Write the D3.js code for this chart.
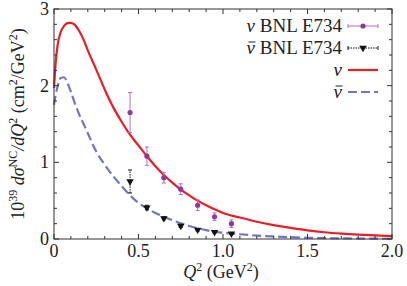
<!DOCTYPE html>
<html>
<head>
<meta charset="utf-8">
<script src="https://cdn.jsdelivr.net/npm/d3@7"></script>
<style>
  body { margin: 0; background: #fff; }
</style>
</head>
<body>
<div id="chart"></div>
<script>
// Curve grid (Q^2) and model curves
const qGrid = [0, 0.01, 0.02, 0.04, 0.06, 0.08, 0.10, 0.125, 0.15, 0.175, 0.2, 0.25, 0.3, 0.35, 0.4, 0.45, 0.5,
  0.55, 0.6, 0.65, 0.7, 0.75, 0.8, 0.85, 0.9, 0.95, 1.0, 1.1, 1.2, 1.3, 1.4, 1.5, 1.6, 1.7, 1.8, 1.9, 2.0];
const nuCurve = [1.97, 2.30, 2.51, 2.70, 2.78, 2.815, 2.82, 2.79, 2.71, 2.60, 2.46, 2.21, 1.95, 1.72, 1.53, 1.36, 1.22,
  1.08, 0.95, 0.835, 0.735, 0.645, 0.57, 0.50, 0.44, 0.387, 0.34, 0.28, 0.225, 0.18, 0.145, 0.113, 0.088, 0.07, 0.056, 0.046, 0.038];
const nubarCurve = [1.75, 1.88, 1.98, 2.10, 2.11, 2.03, 1.92, 1.76, 1.62, 1.50, 1.38, 1.14, 0.97, 0.82, 0.69, 0.57, 0.47,
  0.40, 0.34, 0.29, 0.245, 0.205, 0.17, 0.14, 0.115, 0.095, 0.082, 0.062, 0.045, 0.033, 0.024, 0.016, 0.011, 0.008, 0.006, 0.004, 0.003];

// BNL E734 data
const dataQ2 = [0.45, 0.55, 0.65, 0.75, 0.85, 0.95, 1.05];
const nuData = [1.65, 1.08, 0.80, 0.65, 0.44, 0.29, 0.20];
const nuErr = [0.26, 0.12, 0.07, 0.07, 0.07, 0.05, 0.05];
const nubarData = [0.75, 0.41, 0.27, 0.17, 0.12, 0.09, 0.07];
const nubarErr = [0.15, 0.03, 0.02, 0.02, 0.015, 0.01, 0.01];

const xTicks = [0, 0.5, 1.0, 1.5, 2.0];
const xTickLabels = ['0', '0.5', '1.0', '1.5', '2.0'];
const yTicks = [0, 1, 2, 3];

const W = 407, H = 286;
const margin = { left: 54, right: 15, top: 9, bottom: 47 };
const red = '#ec1c24', blue = '#7275c6', purple = '#8b3a98', purpleLight = '#b070bd';
const FONT = 'Liberation Serif';

const svg = d3.select('#chart').append('svg')
  .attr('width', W).attr('height', H);

const x = d3.scaleLinear().domain([0, 2]).range([margin.left, W - margin.right]);
const y = d3.scaleLinear().domain([0, 3]).range([H - margin.bottom, margin.top]);

// Curves
const line = d3.line().curve(d3.curveMonotoneX)
  .x(d => x(d[0])).y(d => y(d[1]));

svg.append('path')
  .datum(qGrid.map((q, i) => [q, nubarCurve[i]]))
  .attr('d', line)
  .attr('fill', 'none').attr('stroke', blue).attr('stroke-width', 2.2)
  .attr('stroke-dasharray', '9,4');

svg.append('path')
  .datum(qGrid.map((q, i) => [q, nuCurve[i]]))
  .attr('d', line)
  .attr('fill', 'none').attr('stroke', red).attr('stroke-width', 2.2);

// Frame and ticks
const frame = svg.append('g').attr('stroke', '#333').attr('stroke-width', 1);
frame.append('rect')
  .attr('x', x(0)).attr('y', y(3))
  .attr('width', x(2) - x(0)).attr('height', y(0) - y(3))
  .attr('fill', 'none');

const xMinor = d3.range(0, 2.0001, 0.1);
xMinor.forEach(v => {
  const major = xTicks.some(t => Math.abs(t - v) < 1e-6);
  const len = major ? 5 : 3;
  frame.append('line').attr('x1', x(v)).attr('x2', x(v)).attr('y1', y(0)).attr('y2', y(0) - len);
  frame.append('line').attr('x1', x(v)).attr('x2', x(v)).attr('y1', y(3)).attr('y2', y(3) + len);
});
const yMinor = d3.range(0, 3.0001, 0.2);
yMinor.forEach(v => {
  const major = yTicks.some(t => Math.abs(t - v) < 1e-6);
  const len = major ? 5 : 3;
  frame.append('line').attr('y1', y(v)).attr('y2', y(v)).attr('x1', x(0)).attr('x2', x(0) + len);
  frame.append('line').attr('y1', y(v)).attr('y2', y(v)).attr('x1', x(2)).attr('x2', x(2) - len);
});

// Tick labels
svg.append('g').selectAll('text').data(xTicks).join('text')
  .attr('x', d => x(d)).attr('y', y(0) + 18)
  .attr('text-anchor', 'middle').attr('font-size', 18).attr('fill', '#222')
  .text((d, i) => xTickLabels[i]);
svg.append('g').selectAll('text').data(yTicks).join('text')
  .attr('x', x(0) - 5).attr('y', d => y(d) + 6)
  .attr('text-anchor', 'end').attr('font-size', 18).attr('fill', '#222')
  .text(d => d);

// Data: nu-bar (dotted error bars, down triangles)
const tri = d3.symbol().type(d3.symbolTriangle).size(24);
const nb = svg.append('g');
dataQ2.forEach((q, i) => {
  const cx = x(q), lo = y(nubarData[i] - nubarErr[i]), hi = y(nubarData[i] + nubarErr[i]);
  nb.append('line').attr('x1', cx).attr('x2', cx).attr('y1', lo).attr('y2', hi)
    .attr('stroke', '#111').attr('stroke-width', 1).attr('stroke-dasharray', '1.5,1');
  [lo, hi].forEach(yy => nb.append('line').attr('x1', cx - 2).attr('x2', cx + 2).attr('y1', yy).attr('y2', yy)
    .attr('stroke', '#111').attr('stroke-width', 1));
});
nb.selectAll('path').data(dataQ2).join('path')
  .attr('d', tri)
  .attr('transform', (d, i) => `translate(${x(d)},${y(nubarData[i])}) rotate(180)`)
  .attr('fill', '#111');

// Data: nu (solid purple error bars, dots)
const nd = svg.append('g');
dataQ2.forEach((q, i) => {
  const cx = x(q), lo = y(nuData[i] - nuErr[i]), hi = y(nuData[i] + nuErr[i]);
  nd.append('line').attr('x1', cx).attr('x2', cx).attr('y1', lo).attr('y2', hi)
    .attr('stroke', purpleLight).attr('stroke-width', 1);
  [lo, hi].forEach(yy => nd.append('line').attr('x1', cx - 2).attr('x2', cx + 2).attr('y1', yy).attr('y2', yy)
    .attr('stroke', purpleLight).attr('stroke-width', 1));
});
nd.selectAll('circle').data(dataQ2).join('circle')
  .attr('cx', d => x(d)).attr('cy', (d, i) => y(nuData[i]))
  .attr('r', 2.6).attr('fill', purple);

// Legend
const lg = svg.append('g');
const lx0 = 348, lx1 = 378, tx = 342;
const rows = [26, 48, 70, 92];
function nuLabel(yy, bar, rest) {
  let right = tx;
  if (rest) {
    const t = lg.append('text').attr('x', tx).attr('y', yy + 6).attr('text-anchor', 'end')
      .attr('font-family', FONT).attr('font-size', 19).attr('fill', '#222').text(rest);
    right = tx - t.node().getComputedTextLength() - 5;
  }
  const n = lg.append('text').attr('x', right).attr('y', yy + 6).attr('text-anchor', 'end')
    .attr('font-family', FONT).attr('font-size', 19).attr('fill', '#222')
    .attr('font-style', 'italic').text('ν');
  if (bar) {
    const bb = n.node().getBBox();
    lg.append('line').attr('x1', bb.x + 2).attr('x2', bb.x + bb.width)
      .attr('y1', yy - 6).attr('y2', yy - 6).attr('stroke', '#222').attr('stroke-width', 1);
  }
}
// row 1
lg.append('line').attr('x1', lx0).attr('x2', lx1).attr('y1', rows[0]).attr('y2', rows[0])
  .attr('stroke', purpleLight).attr('stroke-width', 1);
[lx0, lx1].forEach(xx => lg.append('line').attr('x1', xx).attr('x2', xx).attr('y1', rows[0] - 2).attr('y2', rows[0] + 2)
  .attr('stroke', purpleLight));
lg.append('circle').attr('cx', (lx0 + lx1) / 2).attr('cy', rows[0]).attr('r', 2.6).attr('fill', purple);
nuLabel(rows[0], false, 'BNL E734');
// row 2
lg.append('line').attr('x1', lx0).attr('x2', lx1).attr('y1', rows[1]).attr('y2', rows[1])
  .attr('stroke', '#111').attr('stroke-width', 1).attr('stroke-dasharray', '1.5,1');
[lx0, lx1].forEach(xx => lg.append('line').attr('x1', xx).attr('x2', xx).attr('y1', rows[1] - 2).attr('y2', rows[1] + 2)
  .attr('stroke', '#111'));
lg.append('path').attr('d', tri).attr('transform', `translate(${(lx0 + lx1) / 2},${rows[1]}) rotate(180)`).attr('fill', '#111');
nuLabel(rows[1], true, 'BNL E734');
// row 3
lg.append('line').attr('x1', lx0).attr('x2', lx1).attr('y1', rows[2]).attr('y2', rows[2])
  .attr('stroke', red).attr('stroke-width', 2.2);
nuLabel(rows[2], false, null);
// row 4
lg.append('line').attr('x1', lx0).attr('x2', lx1).attr('y1', rows[3]).attr('y2', rows[3])
  .attr('stroke', blue).attr('stroke-width', 2.2).attr('stroke-dasharray', '9,4');
nuLabel(rows[3], true, null);

// Axis titles
const xt = svg.append('text').attr('x', 221).attr('y', 278).attr('text-anchor', 'middle')
  .attr('font-size', 18).attr('fill', '#222');
xt.append('tspan').attr('font-style', 'italic').text('Q');
xt.append('tspan').attr('font-size', 12).attr('dy', -7).text('2');
xt.append('tspan').attr('dy', 7).text(' (GeV');
xt.append('tspan').attr('font-size', 12).attr('dy', -7).text('2');
xt.append('tspan').attr('dy', 7).text(')');

const yt = svg.append('text')
  .attr('transform', `translate(24,${(y(0) + y(3)) / 2}) rotate(-90)`)
  .attr('text-anchor', 'middle').attr('font-size', 18).attr('fill', '#222');
yt.append('tspan').text('10');
yt.append('tspan').attr('font-size', 12).attr('dy', -7).text('39');
yt.append('tspan').attr('dy', 7).attr('font-style', 'italic').text(' dσ');
yt.append('tspan').attr('font-size', 12).attr('dy', -7).text('NC');
yt.append('tspan').attr('dy', 7).attr('font-style', 'italic').text('/dQ');
yt.append('tspan').attr('font-size', 12).attr('dy', -7).text('2');
yt.append('tspan').attr('dy', 7).text('  (cm');
yt.append('tspan').attr('font-size', 12).attr('dy', -7).text('2');
yt.append('tspan').attr('dy', 7).text('/GeV');
yt.append('tspan').attr('font-size', 12).attr('dy', -7).text('2');
yt.append('tspan').attr('dy', 7).text(')');

// every text node carries the serif face itself
svg.selectAll('text, tspan').attr('font-family', FONT);
</script>
</body>
</html>
